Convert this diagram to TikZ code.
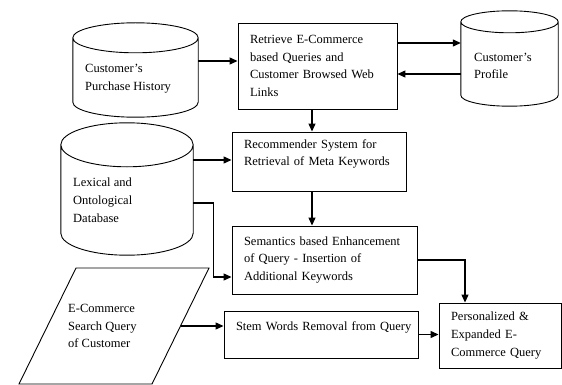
\documentclass[tikz,border=0pt]{standalone}
\usepackage{fontspec}
\setmainfont{Liberation Serif}
\usetikzlibrary{arrows.meta,calc}

% drum (database) drawn round an empty node, #2 = height of the cap (pt)
\newcommand{\dbdrum}[2]{%
  \draw[shapeline] let \p1=(#1.north west), \p2=(#1.south east), \n1={(\x2-\x1)/2} in
    ({\x1+\n1},{\y1-#2pt}) ellipse [x radius=\n1, y radius=#2pt]
    (\x1,{\y1-#2pt}) -- (\x1,{\y2+#2pt})
      arc [start angle=180, end angle=360, x radius=\n1, y radius=#2pt]
      -- (\x2,{\y1-#2pt});
}

\begin{document}
\begin{tikzpicture}[x=1pt,y=1pt,
    font={\fontsize{12.5pt}{17.8pt}\selectfont},
    shapeline/.style={line width=0.9pt},
    stage/.style={draw, shapeline, align=left, inner xsep=12pt, inner ysep=0pt},
    drumarea/.style={inner sep=0pt},
    drumtext/.style={align=left, inner sep=0pt, anchor=west},
    arr/.style={line width=1.2pt, -{Triangle[length=8pt,width=7pt]}}]
    \useasboundingbox (0,0) rectangle (562,-385);

    % databases
    \node[drumarea, minimum width=125pt, minimum height=94pt] (hist) at (135.5,-70) {};
    \dbdrum{hist}{15}
    \node[drumtext] (histtext) at (85,-78.5) {Customer's\\Purchase History};

    \node[drumarea, minimum width=97pt, minimum height=95pt] (prof) at (509.5,-58.5) {};
    \dbdrum{prof}{11}
    \node[drumtext] (proftext) at (474,-66) {Customer's\\Profile};

    \node[drumarea, minimum width=132pt, minimum height=132pt] (lex) at (127,-189) {};
    \dbdrum{lex}{22}
    \node[drumtext] (lextext) at (73,-200.5) {Lexical and\\Ontological\\Database};

    % user query (input)
    \draw[shapeline] (76,-268) -- (209,-268) -- (152,-384) -- (19,-384) -- cycle;
    \node[drumtext] (query) at (68,-326) {E-Commerce\\Search Query\\of Customer};
    \coordinate (qout) at (181,-326);

    % processing steps
    \node[stage, text width=135pt, minimum height=86pt] (retr) at (317.5,-66)
        {Retrieve E-Commerce\\based Queries and\\\mbox{Customer Browsed Web}\\Links};
    \node[stage, text width=150pt, minimum height=59pt] (recm) at (319,-161.5)
        {Recommender System for\\\mbox{Retrieval of Meta Keywords}\\~};
    \node[stage, text width=161pt, minimum height=68pt] (sem) at (324.5,-260)
        {\mbox{Semantics based Enhancement}\\of Query - Insertion of\\Additional Keywords};
    \node[stage, text width=170pt, minimum height=47pt] (stem) at (321,-334.5)
        {\mbox{Stem Words Removal from Query}\\~};
    \node[stage, text width=98pt, minimum height=65pt] (pers) at (500,-335.5)
        {Personalized \&\\Expanded E-\\\mbox{Commerce Query}};

    % connectors
    \draw[arr] ([yshift=9pt]hist.east) -- ([yshift=9pt]hist.east -| retr.west);
    \draw[arr] ([yshift=23pt]retr.east) -- ([yshift=23pt]retr.east -| prof.west);
    \draw[arr] ([yshift=-15.5pt]prof.west) -- ([yshift=-15.5pt]prof.west -| retr.east);
    \draw[arr] ([xshift=-5.5pt]retr.south) -- ([xshift=-5.5pt]retr.south |- recm.north);
    \draw[arr] ([yshift=29pt]lex.east) -- ([yshift=29pt]lex.east -| recm.west);
    \draw[arr] ([xshift=-7pt]recm.south) -- ([xshift=-7pt]recm.south |- sem.north);
    \draw[arr] ([yshift=-14pt]lex.east) -- ++(20,0) |- ([yshift=-17pt]sem.west);
    \draw[arr] (qout) -- (qout -| stem.west);
    \draw[arr] (stem.east) -- (stem.east -| pers.west);
    \draw[arr] (sem.east) -| ([xshift=-35pt]pers.north);
\end{tikzpicture}
\end{document}
